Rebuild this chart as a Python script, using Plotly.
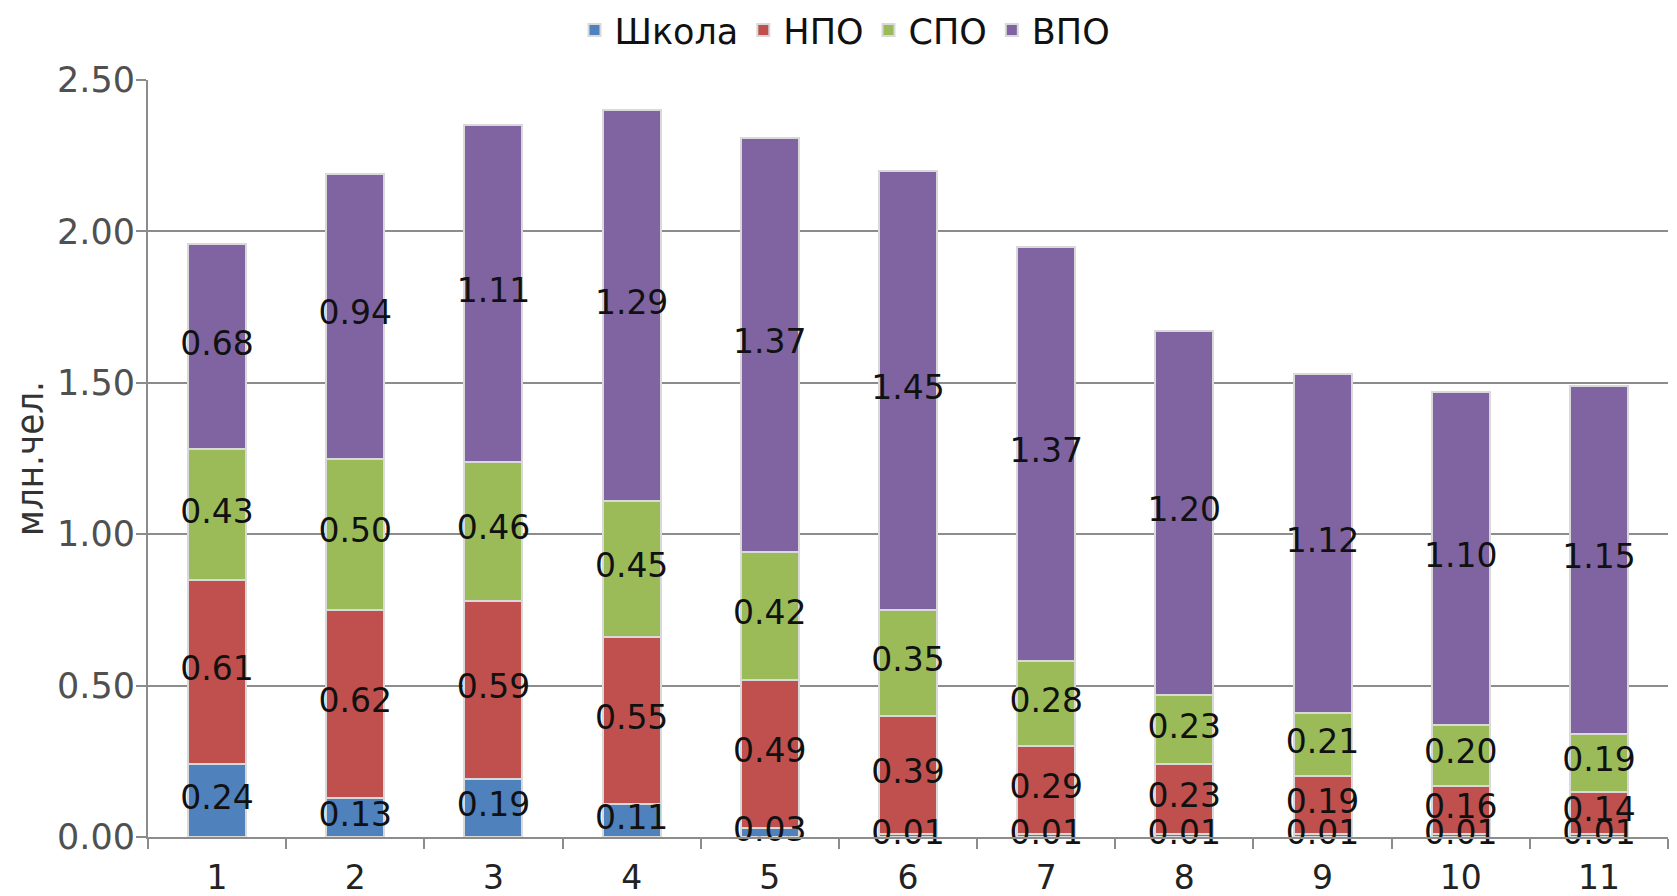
import plotly.graph_objects as go
import numpy as np

categories = ["1", "2", "3", "4", "5", "6", "7", "8", "9", "10", "11"]
series_names = ["Школа", "НПО", "СПО", "ВПО"]
shkola = [0.24, 0.13, 0.19, 0.11, 0.03, 0.01, 0.01, 0.01, 0.01, 0.01, 0.01]
npo = [0.61, 0.62, 0.59, 0.55, 0.49, 0.39, 0.29, 0.23, 0.19, 0.16, 0.14]
spo = [0.43, 0.50, 0.46, 0.45, 0.42, 0.35, 0.28, 0.23, 0.21, 0.20, 0.19]
vpo = [0.68, 0.94, 1.11, 1.29, 1.37, 1.45, 1.37, 1.20, 1.12, 1.10, 1.15]
y_ticks = [0.0, 0.5, 1.0, 1.5, 2.0, 2.5]

colors = ["#4F81BD", "#C0504D", "#9BBB59", "#8064A2"]
series = [shkola, npo, spo, vpo]

fig = go.Figure()
for name, vals, col in zip(series_names, series, colors):
    fig.add_trace(go.Bar(
        x=categories, y=vals, name=name,
        marker=dict(color=col, line=dict(color="#d9d9d9", width=2)),
        hoverinfo="y+name",
    ))

# data labels at segment centers
base = np.zeros(len(categories))
lab_font = dict(family="DejaVu Sans", size=33, color="#111111")
for vals in series:
    v = np.array(vals)
    mids = base + v / 2
    fig.add_trace(go.Scatter(
        x=categories, y=mids, mode="text",
        text=[f"{a:.2f}" for a in vals],
        textfont=lab_font, showlegend=False, hoverinfo="skip",
        cliponaxis=False,
    ))
    base = base + v

fig.update_layout(
    barmode="stack",
    bargap=0.58,
    width=1669, height=888,
    margin=dict(l=140, r=9, t=72, b=59, autoexpand=False),
    paper_bgcolor="white", plot_bgcolor="white",
    showlegend=True,
    legend=dict(
        orientation="h", xref="container", yref="container",
        x=0.5015, xanchor="center", y=0.975, yanchor="middle",
        font=dict(family="DejaVu Sans", size=35, color="#111111"),
        itemwidth=30, tracegroupgap=0, traceorder="normal",
    ),
    font=dict(family="DejaVu Sans"),
)
fig.update_xaxes(
    type="category", range=[-0.5, len(categories) - 0.5],
    showline=True, linecolor="#8c8c8c", linewidth=2,
    ticks="outside", tickson="boundaries", ticklen=10, tickcolor="#8c8c8c", tickwidth=2,
    tickfont=dict(family="DejaVu Sans", size=33, color="#222222"),
    ticklabelstandoff=10,
    showgrid=False,
)
fig.update_yaxes(
    range=[0, 2.5], tickvals=y_ticks, ticktext=[f"{t:.2f}" for t in y_ticks],
    showline=True, linecolor="#8c8c8c", linewidth=2,
    ticks="outside", ticklen=10, tickcolor="#8c8c8c", tickwidth=2,
    showgrid=True, gridcolor="#8c8c8c", gridwidth=2,
    zeroline=False,
    tickfont=dict(family="DejaVu Sans", size=35, color="#505050"),
    ticklabelstandoff=-6,
    title=dict(text="млн.чел.", standoff=12,
               font=dict(family="DejaVu Sans Condensed", size=38, color="#333333")),
)

fig.write_html("out.html")
